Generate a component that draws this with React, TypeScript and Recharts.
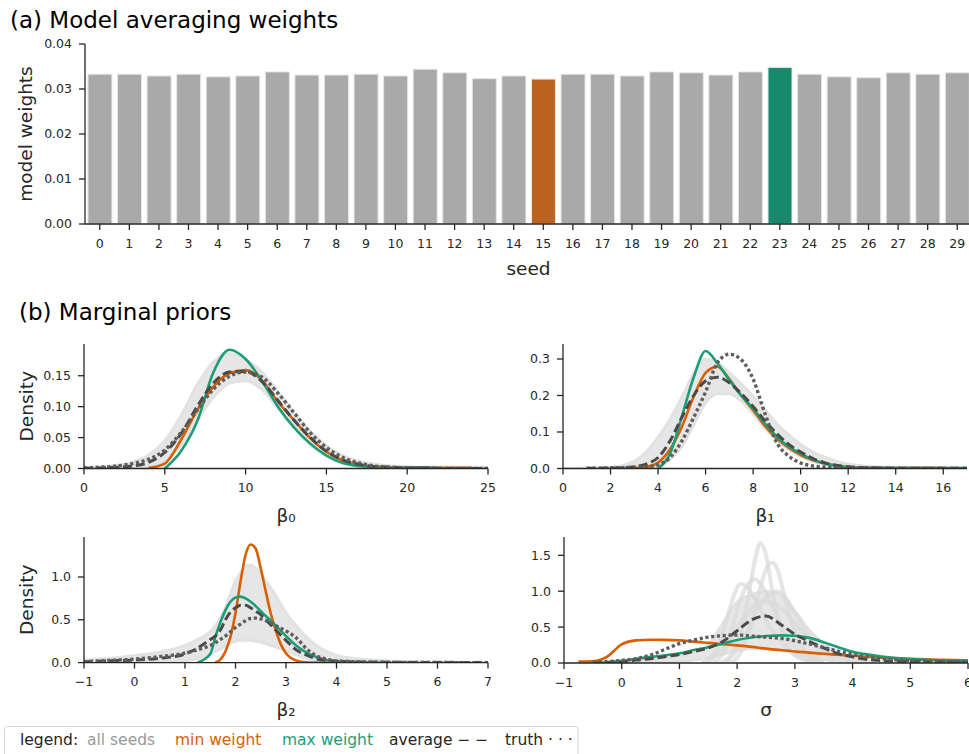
import React from 'react';
import { BarChart, Bar, Cell, XAxis, YAxis, ComposedChart, Line, Area } from 'recharts';

const FONT = 'DejaVu Sans';
const INK = '#262626';
const ORANGE = '#d95f02';
const GREEN = '#1b9e77';
const BAR_GRAY = '#a9a9a9';
const BAR_ORANGE = '#bc621f';
const BAR_GREEN = '#178a6c';

// (a) model averaging weights per seed
const SEEDS = [0, 1, 2, 3, 4, 5, 6, 7, 8, 9, 10, 11, 12, 13, 14, 15, 16, 17, 18, 19, 20, 21, 22, 23, 24, 25, 26, 27, 28, 29];
const WEIGHTS = [
  0.0333, 0.0333, 0.0329, 0.0333, 0.0327, 0.0329, 0.0338, 0.0331, 0.0331, 0.0333,
  0.0329, 0.0344, 0.0336, 0.0323, 0.0329, 0.0322, 0.0333, 0.0333, 0.0329, 0.0338,
  0.0336, 0.0331, 0.0338, 0.0348, 0.0333, 0.0327, 0.0325, 0.0336, 0.0333, 0.0336,
];
const WEIGHT_TICKS = [0, 0.01, 0.02, 0.03, 0.04];

// (b) beta_0 densities
const B0_X = [0, 1, 2, 3, 4, 5, 6, 7, 8, 9, 10, 11, 12, 13, 14, 15, 16, 17, 18, 19, 20, 21, 22, 23, 24, 25];
const B0_LO = [0, 0, 0, 0.001, 0.003, 0.012, 0.038, 0.078, 0.115, 0.138, 0.142, 0.128, 0.098, 0.068, 0.042, 0.022, 0.01, 0.004, 0.002, 0.001, 0, 0, 0, 0, 0, 0];
const B0_HI = [0.002, 0.003, 0.005, 0.01, 0.022, 0.045, 0.085, 0.135, 0.172, 0.186, 0.176, 0.156, 0.124, 0.09, 0.06, 0.037, 0.021, 0.012, 0.007, 0.004, 0.003, 0.002, 0.002, 0.002, 0.002, 0.002];
const B0_MIN = [null, null, null, null, 0.001, 0.008, 0.046, 0.094, 0.132, 0.154, 0.159, 0.143, 0.108, 0.078, 0.049, 0.027, 0.013, 0.006, 0.003, 0.002, 0.001, 0.001, 0.001, 0.001, 0.001, null];
const B0_MAX = [null, null, null, null, null, 0, 0.028, 0.076, 0.155, 0.192, 0.177, 0.142, 0.1, 0.066, 0.04, 0.021, 0.009, 0.004, 0.002, 0.001, 0.001, 0.001, 0.001, null, null, null];
const B0_AVG = [0, 0.001, 0.002, 0.004, 0.01, 0.026, 0.056, 0.1, 0.138, 0.156, 0.157, 0.141, 0.11, 0.078, 0.05, 0.028, 0.014, 0.007, 0.003, 0.002, 0.001, 0.001, 0, 0, 0, 0];
const B0_TRUE = [0.001, 0.002, 0.004, 0.008, 0.015, 0.03, 0.058, 0.094, 0.128, 0.149, 0.156, 0.148, 0.122, 0.09, 0.058, 0.034, 0.018, 0.009, 0.004, 0.002, 0.001, 0.001, 0, 0, 0, 0];

// beta_1 densities
const B1_X = [0, 0.5, 1, 1.5, 2, 2.5, 3, 3.5, 4, 4.5, 5, 5.5, 6, 6.5, 7, 7.5, 8, 8.5, 9, 9.5, 10, 10.5, 11, 11.5, 12, 12.5, 13, 14, 15, 16, 17];
const B1_LO = [0, 0, 0, 0, 0, 0, 0, 0.001, 0.005, 0.025, 0.06, 0.12, 0.18, 0.205, 0.205, 0.185, 0.15, 0.11, 0.078, 0.052, 0.033, 0.02, 0.012, 0.006, 0.003, 0.001, 0.001, 0, 0, 0, 0];
const B1_HI = [0.001, 0.001, 0.002, 0.002, 0.003, 0.008, 0.02, 0.045, 0.085, 0.135, 0.195, 0.26, 0.3, 0.29, 0.262, 0.232, 0.198, 0.16, 0.122, 0.092, 0.066, 0.046, 0.031, 0.02, 0.012, 0.008, 0.005, 0.003, 0.002, 0.001, 0.001];
const B1_MIN = [null, null, null, null, null, null, 0.001, 0.004, 0.016, 0.052, 0.114, 0.197, 0.262, 0.279, 0.245, 0.2, 0.16, 0.116, 0.082, 0.056, 0.037, 0.023, 0.014, 0.008, 0.004, 0.002, 0.001, 0.001, 0.001, 0.001, null];
const B1_MAX = [null, null, null, null, null, null, null, null, 0, 0.04, 0.142, 0.25, 0.322, 0.288, 0.242, 0.2, 0.165, 0.123, 0.087, 0.06, 0.041, 0.025, 0.014, 0.007, 0.003, 0.002, 0.001, 0.001, 0.001, 0.001, 0.001];
const B1_AVG = [null, null, 0, 0.001, 0.001, 0.002, 0.005, 0.012, 0.03, 0.075, 0.14, 0.2, 0.24, 0.25, 0.235, 0.205, 0.17, 0.13, 0.095, 0.066, 0.045, 0.028, 0.016, 0.009, 0.005, 0.003, 0.002, 0.001, 0.001, 0.001, 0.001];
const B1_TRUE = [null, null, 0.001, 0.001, 0.002, 0.002, 0.003, 0.005, 0.01, 0.03, 0.075, 0.14, 0.21, 0.29, 0.313, 0.298, 0.245, 0.15, 0.07, 0.034, 0.015, 0.007, 0.004, 0.002, 0.001, 0.001, 0.001, 0, 0, 0, 0];

// beta_2 densities
const B2_X = [-1, -0.5, 0, 0.5, 1, 1.25, 1.5, 1.6, 1.7, 1.8, 1.9, 2.0, 2.1, 2.2, 2.3, 2.4, 2.5, 2.6, 2.7, 2.8, 2.9, 3.0, 3.2, 3.4, 3.6, 3.8, 4.0, 4.5, 5, 5.5, 6, 6.5, 7];
const B2_LO = [0, 0, 0.005, 0.01, 0.02, 0.05, 0.1, 0.13, 0.16, 0.2, 0.23, 0.25, 0.26, 0.26, 0.26, 0.25, 0.24, 0.22, 0.2, 0.18, 0.16, 0.14, 0.09, 0.05, 0.025, 0.012, 0.006, 0.001, 0, 0, 0, 0, 0];
const B2_HI = [0.03, 0.05, 0.08, 0.12, 0.2, 0.27, 0.36, 0.43, 0.52, 0.64, 0.8, 0.95, 1.05, 1.12, 1.14, 1.1, 1.04, 0.96, 0.87, 0.78, 0.68, 0.58, 0.43, 0.3, 0.2, 0.13, 0.085, 0.04, 0.02, 0.012, 0.007, 0.004, 0.003];
const B2_MIN = [null, null, null, null, null, null, null, 0, 0.035, 0.13, 0.3, 0.58, 0.95, 1.26, 1.38, 1.33, 1.1, 0.83, 0.57, 0.37, 0.21, 0.11, 0.025, 0.004, 0.001, 0, 0, null, null, null, null, null, null];
const B2_MAX = [null, null, null, null, null, 0, 0.1, 0.3, 0.47, 0.61, 0.71, 0.76, 0.77, 0.75, 0.71, 0.66, 0.6, 0.545, 0.49, 0.43, 0.37, 0.31, 0.2, 0.12, 0.066, 0.03, 0.014, 0.003, 0.001, null, null, null, null];
const B2_AVG = [0.01, 0.02, 0.03, 0.05, 0.1, 0.17, 0.27, 0.31, 0.38, 0.5, 0.59, 0.64, 0.67, 0.67, 0.64, 0.6, 0.56, 0.5, 0.44, 0.38, 0.32, 0.26, 0.15, 0.09, 0.047, 0.025, 0.016, 0.007, 0.004, 0.002, 0.002, 0.001, 0.001];
const B2_TRUE = [0.01, 0.025, 0.04, 0.07, 0.11, 0.15, 0.2, 0.23, 0.27, 0.31, 0.36, 0.41, 0.45, 0.49, 0.515, 0.52, 0.51, 0.49, 0.465, 0.43, 0.4, 0.37, 0.29, 0.165, 0.08, 0.04, 0.02, 0.008, 0.003, 0.001, 0.001, 0, 0];

// sigma densities
const SG_X = [-1, -0.75, -0.5, -0.25, 0, 0.25, 0.5, 0.75, 1, 1.25, 1.5, 1.75, 2, 2.25, 2.5, 2.75, 3, 3.25, 3.5, 3.75, 4, 4.25, 4.5, 5, 5.5, 6];
const SG_LO = [null, null, 0, 0, 0, 0, 0.005, 0.01, 0.02, 0.04, 0.07, 0.12, 0.18, 0.2, 0.2, 0.18, 0.14, 0.09, 0.05, 0.025, 0.012, 0.006, 0.003, 0, 0, 0];
const SG_HI = [null, null, 0.005, 0.01, 0.02, 0.03, 0.05, 0.07, 0.1, 0.15, 0.25, 0.55, 0.85, 0.95, 1.0, 0.95, 0.72, 0.46, 0.27, 0.14, 0.07, 0.035, 0.02, 0.008, 0.004, 0.002];
const SG_MIN = [null, 0.02, 0.025, 0.09, 0.26, 0.315, 0.323, 0.322, 0.315, 0.298, 0.28, 0.262, 0.245, 0.225, 0.2, 0.18, 0.16, 0.145, 0.128, 0.115, 0.1, 0.086, 0.075, 0.057, 0.045, 0.037];
const SG_MAX = [null, null, 0, 0.01, 0.03, 0.06, 0.085, 0.107, 0.135, 0.18, 0.22, 0.27, 0.32, 0.355, 0.375, 0.385, 0.38, 0.35, 0.29, 0.22, 0.155, 0.12, 0.09, 0.055, 0.035, 0.023];
const SG_AVG = [null, null, 0, 0.005, 0.015, 0.04, 0.06, 0.088, 0.12, 0.16, 0.21, 0.3, 0.45, 0.6, 0.655, 0.54, 0.4, 0.3, 0.21, 0.13, 0.085, 0.05, 0.035, 0.02, 0.013, 0.01];
const SG_TRUE = [null, null, 0.01, 0.02, 0.035, 0.06, 0.11, 0.19, 0.27, 0.32, 0.36, 0.38, 0.39, 0.375, 0.36, 0.345, 0.31, 0.265, 0.215, 0.165, 0.12, 0.085, 0.06, 0.035, 0.022, 0.015];

// individual seeds with sharp sigma peaks
const SG_SEED_A_X = [1.7, 1.9, 2.05, 2.2, 2.3, 2.4, 2.5, 2.6, 2.75, 2.9, 3.1, 3.4];
const SG_SEED_A_Y = [0, 0.12, 0.4, 0.95, 1.4, 1.67, 1.5, 1.05, 0.5, 0.2, 0.06, 0];
const SG_SEED_B_X = [1.9, 2.1, 2.25, 2.4, 2.5, 2.6, 2.7, 2.8, 2.95, 3.15, 3.5];
const SG_SEED_B_Y = [0, 0.2, 0.55, 1.05, 1.3, 1.4, 1.3, 1.0, 0.55, 0.2, 0.02];
const SG_SEED_C_X = [1.4, 1.65, 1.8, 1.95, 2.05, 2.15, 2.3, 2.5, 2.7, 3.0, 3.4];
const SG_SEED_C_Y = [0, 0.2, 0.55, 0.95, 1.1, 1.08, 0.9, 0.6, 0.35, 0.12, 0.02];
const SG_SEED_D_X = [1.6, 1.85, 2.0, 2.15, 2.3, 2.45, 2.6, 2.8, 3.1, 3.5];
const SG_SEED_D_Y = [0, 0.3, 0.75, 1.05, 1.17, 1.05, 0.8, 0.45, 0.15, 0.02];
const SG_SEED_E_X = [1.8, 2.1, 2.35, 2.55, 2.7, 2.85, 3.0, 3.3, 3.7];
const SG_SEED_E_Y = [0, 0.3, 0.75, 0.95, 1.0, 0.9, 0.7, 0.3, 0.05];
const SG_SEED_F_X = [1.5, 1.8, 2.1, 2.4, 2.7, 3.0, 3.3, 3.7, 4.2];
const SG_SEED_F_Y = [0, 0.25, 0.6, 0.85, 0.8, 0.55, 0.3, 0.1, 0.02];

type Num = number | null;

const buildRows = (xs: number[], lo: Num[], hi: Num[], minW: Num[], maxW: Num[], avg: Num[], truth: Num[]) =>
  xs.map((x, i) => ({
    x,
    band: lo[i] != null && hi[i] != null ? [lo[i], hi[i]] : null,
    minW: minW[i],
    maxW: maxW[i],
    avg: avg[i],
    truth: truth[i],
  }));

const zipXY = (xs: number[], ys: number[]) => xs.map((x, i) => ({ x, y: ys[i] }));

const tickStyle = { fontSize: 12.5, fill: INK, fontFamily: FONT };
const axisStroke = { stroke: INK, strokeWidth: 1.3 };

const minus = (v: number) => (v < 0 ? `\u2212${Math.abs(v)}` : String(v));

const xLabel = (text: string, dy: number) => (props: any) => {
  const vb = props.viewBox;
  return (
    <text x={vb.x + vb.width / 2} y={vb.y + dy} textAnchor="middle" fontSize={18.5} fontFamily={FONT} fill={INK}>
      {text}
    </text>
  );
};

const yLabel = (text: string, x: number) => (props: any) => {
  const vb = props.viewBox;
  const cy = vb.y + vb.height / 2;
  return (
    <text x={x} y={cy} transform={`rotate(-90 ${x} ${cy})`} textAnchor="middle" dominantBaseline="central"
      fontSize={18.5} fontFamily={FONT} fill={INK}>
      {text}
    </text>
  );
};

const WeightsChart = () => {
  const rows = SEEDS.map((s, i) => ({ seed: s, w: WEIGHTS[i] }));
  const lo = Math.min(...WEIGHTS);
  const hi = Math.max(...WEIGHTS);
  return (
    <div style={{ position: 'absolute', left: 0, top: 0 }}>
      <BarChart width={972} height={284} data={rows} margin={{ top: 44, right: 0, left: 0, bottom: 0 }} barCategoryGap="10%">
        <XAxis dataKey="seed" height={60} tick={tickStyle} tickSize={6} tickMargin={9}
          axisLine={axisStroke} tickLine={axisStroke} interval={0} label={xLabel('seed', 51)} />
        <YAxis width={85} domain={[0, 0.04]} ticks={WEIGHT_TICKS} tickFormatter={(v: number) => v.toFixed(2)}
          tick={tickStyle} tickSize={6} tickMargin={7} axisLine={axisStroke} tickLine={axisStroke}
          label={yLabel('model weights', 25)} />
        <Bar dataKey="w" stroke="#e6e6e6" strokeWidth={1} isAnimationActive={false}>
          {rows.map((r, i) => (
            <Cell key={`bar-${i}`} fill={r.w === lo ? BAR_ORANGE : r.w === hi ? BAR_GREEN : BAR_GRAY} />
          ))}
        </Bar>
      </BarChart>
    </div>
  );
};

interface PanelProps {
  left: number;
  top: number;
  axisW: number;
  plotW: number;
  plotH: number;
  xDomain: [number, number];
  xTicks: number[];
  yMax: number;
  yTicks: number[];
  yDigits: number;
  rows: any[];
  seeds?: { x: number; y: number }[][];
  label: string;
  density?: boolean;
}

const DensityPanel: React.FC<PanelProps> = ({
  left, top, axisW, plotW, plotH, xDomain, xTicks, yMax, yTicks, yDigits, rows, seeds = [], label, density,
}) => {
  const gray = { stroke: '#dadada', strokeOpacity: 0.7, strokeWidth: 4 };
  return (
    <div style={{ position: 'absolute', left, top: top - 10 }}>
      <ComposedChart width={axisW + plotW + 14} height={10 + plotH + 60} data={rows}
        margin={{ top: 10, right: 14, left: 0, bottom: 0 }}>
        <XAxis dataKey="x" type="number" domain={xDomain} ticks={xTicks} tickFormatter={minus} allowDataOverflow
          height={60} tick={tickStyle} tickSize={6} tickMargin={9} axisLine={axisStroke} tickLine={axisStroke}
          label={xLabel(label, 53)} />
        <YAxis type="number" width={axisW} domain={[0, yMax]} ticks={yTicks} allowDataOverflow
          tickFormatter={(v: number) => v.toFixed(yDigits)} tick={tickStyle} tickSize={6} tickMargin={7}
          axisLine={axisStroke} tickLine={axisStroke} label={density ? yLabel('Density', 26) : undefined} />
        <Area dataKey="band" type="monotone" stroke="#e2e2e2" strokeWidth={3} fill="#dedede" fillOpacity={0.75}
          connectNulls isAnimationActive={false} />
        {seeds.map((s, i) => (
          <Line key={`seed-${i}`} data={s} dataKey="y" type="monotone" dot={false} {...gray} isAnimationActive={false} />
        ))}
        <Line dataKey="minW" type="monotone" stroke={ORANGE} strokeWidth={2.6} dot={false} connectNulls isAnimationActive={false} />
        <Line dataKey="maxW" type="monotone" stroke={GREEN} strokeWidth={2.6} dot={false} connectNulls isAnimationActive={false} />
        <Line dataKey="avg" type="monotone" stroke="#4a4a4a" strokeWidth={3} strokeDasharray="9 4" dot={false}
          connectNulls isAnimationActive={false} />
        <Line dataKey="truth" type="monotone" stroke="#5e5e5e" strokeWidth={3.4} strokeDasharray="3.2 2.6" dot={false}
          connectNulls isAnimationActive={false} />
      </ComposedChart>
    </div>
  );
};

const LEGEND_ITEMS = [
  { text: 'legend:', color: INK, x: 20 },
  { text: 'all seeds', color: '#9a9a9a', x: 87 },
  { text: 'min weight', color: ORANGE, x: 175 },
  { text: 'max weight', color: GREEN, x: 282 },
  { text: 'average \u2212 \u2212', color: INK, x: 389 },
  { text: 'truth \u00b7 \u00b7 \u00b7', color: INK, x: 505 },
];

export default function App() {
  const b0 = buildRows(B0_X, B0_LO, B0_HI, B0_MIN, B0_MAX, B0_AVG, B0_TRUE);
  const b1 = buildRows(B1_X, B1_LO, B1_HI, B1_MIN, B1_MAX, B1_AVG, B1_TRUE);
  const b2 = buildRows(B2_X, B2_LO, B2_HI, B2_MIN, B2_MAX, B2_AVG, B2_TRUE);
  const sg = buildRows(SG_X, SG_LO, SG_HI, SG_MIN, SG_MAX, SG_AVG, SG_TRUE);
  const sgSeeds = [
    zipXY(SG_SEED_F_X, SG_SEED_F_Y),
    zipXY(SG_SEED_E_X, SG_SEED_E_Y),
    zipXY(SG_SEED_C_X, SG_SEED_C_Y),
    zipXY(SG_SEED_D_X, SG_SEED_D_Y),
    zipXY(SG_SEED_B_X, SG_SEED_B_Y),
    zipXY(SG_SEED_A_X, SG_SEED_A_Y),
  ];

  return (
    <div style={{ position: 'absolute', left: 0, top: 0, width: 969, height: 754, overflow: 'hidden', background: '#fff', fontFamily: FONT }}>
      <WeightsChart />
      <DensityPanel left={0} top={344} axisW={84} plotW={404} plotH={124.5} xDomain={[0, 25]} xTicks={[0, 5, 10, 15, 20, 25]}
        yMax={0.2013} yTicks={[0, 0.05, 0.1, 0.15]} yDigits={2} rows={b0} label={'\u03b2\u2080'} density />
      <DensityPanel left={480} top={344} axisW={83} plotW={404} plotH={124.5} xDomain={[0, 17]}
        xTicks={[0, 2, 4, 6, 8, 10, 12, 14, 16]} yMax={0.341} yTicks={[0, 0.1, 0.2, 0.3]} yDigits={1} rows={b1}
        label={'\u03b2\u2081'} />
      <DensityPanel left={0} top={536.7} axisW={84} plotW={404} plotH={125.6} xDomain={[-1, 7]}
        xTicks={[-1, 0, 1, 2, 3, 4, 5, 6, 7]} yMax={1.467} yTicks={[0, 0.5, 1]} yDigits={1} rows={b2}
        label={'\u03b2\u2082'} density />
      <DensityPanel left={480} top={536.7} axisW={84} plotW={404} plotH={126} xDomain={[-1, 6]}
        xTicks={[-1, 0, 1, 2, 3, 4, 5, 6]} yMax={1.755} yTicks={[0, 0.5, 1, 1.5]} yDigits={1} rows={sg}
        seeds={sgSeeds} label={'\u03c3'} />
      <svg width={969} height={754} style={{ position: 'absolute', left: 0, top: 0, pointerEvents: 'none' }}>
        <text x={10} y={28.3} fontSize={23} fontFamily={FONT} fill="#000">(a) Model averaging weights</text>
        <text x={19} y={320} fontSize={23} fontFamily={FONT} fill="#000">(b) Marginal priors</text>
        <rect x={4.5} y={726.5} width={573.5} height={40} rx={3} fill="#fff" fillOpacity={0.85} stroke="#d5d5d5" strokeWidth={1} />
        {LEGEND_ITEMS.map((it) => (
          <text key={it.text} x={it.x} y={745} fontSize={15.5} fontFamily={FONT} fill={it.color}>{it.text}</text>
        ))}
      </svg>
    </div>
  );
}
